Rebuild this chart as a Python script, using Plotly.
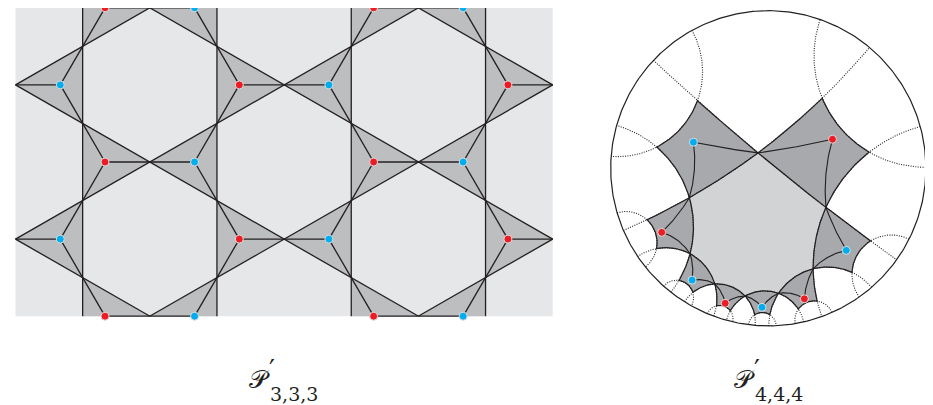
import numpy as np
import plotly.graph_objects as go

W, H = 933, 405
LINE = "#231f20"
RED, BLUE = "#ed1c24", "#00aeef"

# ---------------- data ----------------
LABEL_P = "𝒫"
LABEL_PRIME = "′"
LABEL_SUBS = ["3,3,3", "4,4,4"]
LABEL_X = [263, 748]
TRI_COLORS = {"right": RED, "left": BLUE}        # kagome triangle orientation -> dot colour
PIECE_COLORS = [RED, BLUE]                         # squares around the central octagon alternate
N_GON = 8                                          # central polygon of P'_{4,4,4}
OCT_MID = 0.4859                                   # Euclidean radius of the octagon edge midpoints
SQUARE_SIDE = 1.0358                               # outer square sides relative to the octagon side
HYP_CENTER = (-0.1043, -0.4817)                    # image of the octagon centre in the disk
HYP_ROT = 1.4637                                   # rotation of the picture (radians)
DOT_R = {RED: 0.7334, BLUE: 0.7043}                # dot position along each square's axis

# ---------------- left panel geometry (Euclidean kagome) ----------------
K_X0, K_Y0 = 7.5, -0.2
K_DX, K_DY = 67.15, 38.55
RECT = (7.5, 544.7, -60.0, 308.3)

def kp(i, j):
    return (K_X0 + i*K_DX, K_Y0 + j*K_DY)

def clip_seg(p, q, x0, x1, y0, y1):
    dx, dy = q[0]-p[0], q[1]-p[1]
    t0, t1 = 0.0, 1.0
    for pk, qk in ((-dx, p[0]-x0), (dx, x1-p[0]), (-dy, p[1]-y0), (dy, y1-p[1])):
        if abs(pk) < 1e-12:
            if qk < 0:
                return None
        else:
            t = qk/pk
            if pk < 0:
                t0 = max(t0, t)
            else:
                t1 = min(t1, t)
    if t0 > t1:
        return None
    return (p[0]+t0*dx, p[1]+t0*dy), (p[0]+t1*dx, p[1]+t1*dy)

def clip_poly(pts, x0, x1, y0, y1):
    def clip(pts, inside, inter):
        out = []
        for k in range(len(pts)):
            cur, prev = pts[k], pts[k-1]
            if inside(cur):
                if not inside(prev):
                    out.append(inter(prev, cur))
                out.append(cur)
            elif inside(prev):
                out.append(inter(prev, cur))
        return out
    def ix(p, q, x):
        t = (x-p[0])/(q[0]-p[0]); return (x, p[1]+t*(q[1]-p[1]))
    def iy(p, q, y):
        t = (y-p[1])/(q[1]-p[1]); return (p[0]+t*(q[0]-p[0]), y)
    for f in (lambda P: clip(P, lambda a: a[0] >= x0, lambda a, b: ix(a, b, x0)),
              lambda P: clip(P, lambda a: a[0] <= x1, lambda a, b: ix(a, b, x1)),
              lambda P: clip(P, lambda a: a[1] >= y0, lambda a, b: iy(a, b, y0)),
              lambda P: clip(P, lambda a: a[1] <= y1, lambda a, b: iy(a, b, y1))):
        if pts:
            pts = f(pts)
    return pts

segs, tris, dots, spokes = [], [], [], []
for i in range(1, 9, 2):
    segs.append((kp(i, -4), kp(i, 12)))
for c in range(-14, 30):
    if c % 4 == 2:
        segs.append((kp(-2, c+2), kp(10, c-10)))
        segs.append((kp(-2, c-2), kp(10, c+10)))
for i in range(1, 9, 2):
    for j0 in range(-3, 11, 2):
        kind = "left" if (i + j0) % 4 == 2 else "right"
        ti = i-1 if kind == "left" else i+1
        A, B, C = kp(i, j0), kp(i, j0+2), kp(ti, j0+1)
        cen = kp(i-1/3 if kind == "left" else i+1/3, j0+1)
        tris.append([A, B, C])
        if RECT[0] < cen[0] < RECT[1] and -5 < cen[1] < RECT[3]+1:
            dots.append((cen, TRI_COLORS[kind]))
        for v in (A, B, C):
            spokes.append((cen, v))

fig = go.Figure()
x0, x1, y0, y1 = RECT
fig.add_trace(go.Scatter(x=[x0, x1, x1, x0, x0], y=[y0, y0, y1, y1, y0], fill="toself",
                         fillcolor="#e6e7e8", line=dict(width=0), mode="lines", hoverinfo="skip"))
tx, ty = [], []
for t in tris:
    cp = clip_poly(t, *RECT)
    if len(cp) >= 3:
        tx += [p[0] for p in cp] + [cp[0][0], None]
        ty += [p[1] for p in cp] + [cp[0][1], None]
fig.add_trace(go.Scatter(x=tx, y=ty, fill="toself", fillcolor="#bcbec0", line=dict(width=0),
                         mode="lines", hoverinfo="skip"))
lx, ly = [], []
for p, q in segs + spokes:
    c = clip_seg(p, q, *RECT)
    if c:
        lx += [c[0][0], c[1][0], None]; ly += [c[0][1], c[1][1], None]
fig.add_trace(go.Scatter(x=lx, y=ly, mode="lines", line=dict(color=LINE, width=1.3), hoverinfo="skip"))

# ---------------- hyperbolic construction (Poincaré disk) ----------------
DISK_CX, DISK_CY, DISK_R = 760.3, 160.3, 157.6

def to_px(z):
    z = np.asarray(z)
    return DISK_CX + DISK_R*z.real, DISK_CY - DISK_R*z.imag

def mob(z, a):
    return (z - a)/(1 - np.conj(a)*z)
def mobinv(z, a):
    return (z + a)/(1 + np.conj(a)*z)

cm = (1+OCT_MID**2)/(2*OCT_MID)
kc = cm*np.cos(np.pi/N_GON)
r = kc - np.sqrt(kc*kc-1)
V = [r*np.exp(-2j*k*np.pi/N_GON) for k in range(N_GON)]
pieces = []
for k in range(N_GON):
    a_, b_ = V[k], V[(k+1) % N_GON]
    s = SQUARE_SIDE*abs(mob(a_, b_))
    w = mob(V[(k+2) % N_GON], b_); xp = mobinv(-s*w/abs(w), b_)
    w = mob(V[(k-1) % N_GON], a_); xm = mobinv(-s*w/abs(w), a_)
    pieces.append([a_, b_, xp, xm])

rot = np.exp(1j*HYP_ROT)
shift = np.conj(rot)*complex(*HYP_CENTER)
def T(z):
    return rot*(z + shift)/(1 + np.conj(shift)*z)

def geo_seg(z1, z2, n=60):
    w = mob(z2, z1)
    return mobinv(np.linspace(0, 1, n)*w, z1)
def geo_full(z1, z2, n=900):
    w = mob(z2, z1); u = w/abs(w)
    return mobinv(np.tanh(np.linspace(-5, 5, n))*u, z1)

dotted, dlines, hdots = [], [], []
for k in range(N_GON):
    a_, b_, xp, xm = pieces[k]
    dotted.append(geo_full(a_, b_))
    dotted.append(geo_full(xp, xm))
    col = PIECE_COLORS[k % 2]
    dot = DOT_R[col]*np.exp(-1j*(k+0.5)*2*np.pi/N_GON)
    hdots.append((dot, col))
    dlines.append(geo_seg(dot, a_)); dlines.append(geo_seg(dot, b_))

def poly_path(verts):
    return np.concatenate([geo_seg(verts[i], verts[(i+1) % len(verts)]) for i in range(len(verts))])

def add_fill(paths, color):
    xs, ys = [], []
    for pth in paths:
        X, Y = to_px(T(pth))
        xs += list(X) + [None]; ys += list(Y) + [None]
    fig.add_trace(go.Scatter(x=xs, y=ys, fill="toself", fillcolor=color, line=dict(width=0),
                             mode="lines", hoverinfo="skip"))

def add_lines(paths, width, dash=None):
    xs, ys = [], []
    for pth in paths:
        X, Y = to_px(T(pth))
        xs += list(X) + [None]; ys += list(Y) + [None]
    fig.add_trace(go.Scatter(x=xs, y=ys, mode="lines", hoverinfo="skip",
                             line=dict(color=LINE, width=width, dash=dash)))

add_fill([poly_path(V)], "#d1d3d4")
add_fill([poly_path(pc) for pc in pieces], "#a7a9ac")
add_lines(dotted, 1.1, "1px,1.4px")
add_lines([poly_path(pc) for pc in pieces], 1.2)
add_lines(dlines, 1.1)
th_c = np.linspace(0, 2*np.pi, 400)
fig.add_trace(go.Scatter(x=DISK_CX + DISK_R*np.cos(th_c), y=DISK_CY + DISK_R*np.sin(th_c), mode="lines",
                         line=dict(color=LINE, width=1.2), hoverinfo="skip"))

for col in (RED, BLUE):
    xs = [d[0][0] for d in dots if d[1] == col]
    ys = [d[0][1] for d in dots if d[1] == col]
    for z, c in hdots:
        if c == col:
            X, Y = to_px(T(z)); xs.append(float(X)); ys.append(float(Y))
    fig.add_trace(go.Scatter(x=xs, y=ys, mode="markers", hoverinfo="skip",
                             marker=dict(size=8, color=col, line=dict(color="#dcdcdc", width=1))))

for sub, lxp in zip(LABEL_SUBS, LABEL_X):
    fig.add_annotation(x=lxp, y=371, text=LABEL_P, showarrow=False, xanchor="right", yanchor="middle",
                       borderpad=0, font=dict(family="DejaVu Serif", size=25, color="#231f20"))
    fig.add_annotation(x=lxp-3, y=362, text=LABEL_PRIME, showarrow=False, xanchor="left", yanchor="middle",
                       borderpad=0, font=dict(family="DejaVu Sans", size=26, color="#231f20"))
    fig.add_annotation(x=lxp-2, y=386, text=sub, showarrow=False, xanchor="left", yanchor="middle",
                       borderpad=0, font=dict(family="DejaVu Serif", size=19, color="#231f20"))

fig.update_layout(width=W, height=H, margin=dict(l=0, r=0, t=0, b=0), showlegend=False,
                  plot_bgcolor="white", paper_bgcolor="white",
                  xaxis=dict(range=[0, W], visible=False, fixedrange=True),
                  yaxis=dict(range=[H, 0], visible=False, fixedrange=True))
fig.write_html("out.html")
